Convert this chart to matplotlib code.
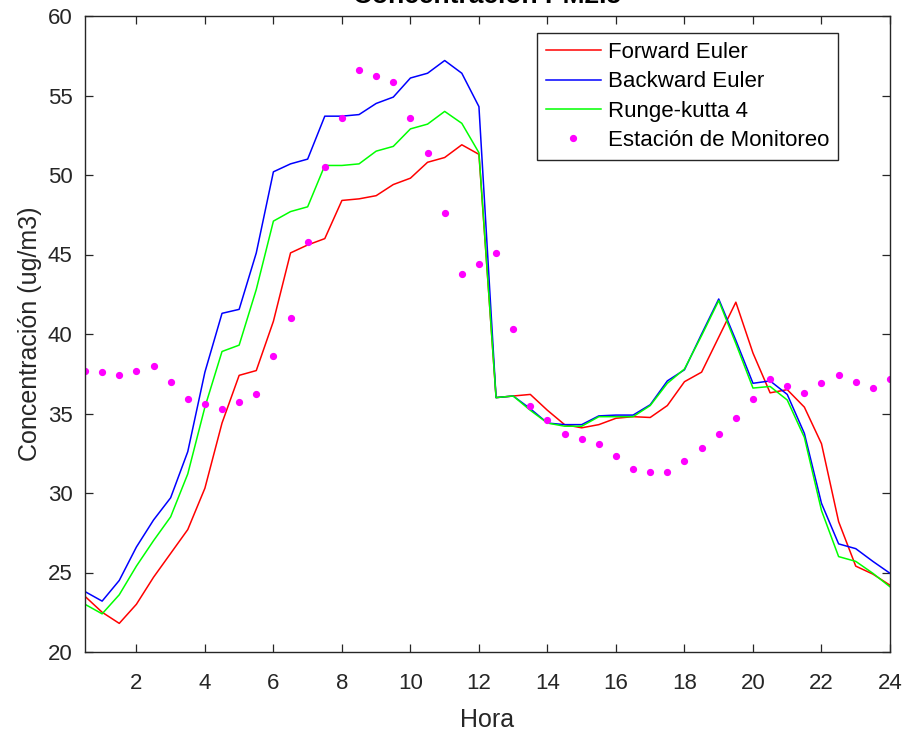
import numpy as np
import matplotlib.pyplot as plt

plt.rcParams['font.family'] = ['Liberation Sans', 'DejaVu Sans']

# horas (cada media hora)
hora = np.arange(1, 49) / 2.0

forward_euler = [23.5, 22.5, 21.8, 23.0, 24.7, 26.2, 27.7, 30.3, 34.4, 37.4, 37.7, 40.8,
                 45.1, 45.6, 46.0, 48.4, 48.5, 48.7, 49.4, 49.8, 50.8, 51.1, 51.9, 51.3,
                 36.0, 36.1, 36.2, 35.2, 34.3, 34.1, 34.3, 34.7, 34.8, 34.75, 35.5, 37.0,
                 37.6, 39.8, 42.0, 38.8, 36.3, 36.5, 35.4, 33.1, 28.2, 25.4, 24.9, 24.2]

backward_euler = [23.8, 23.2, 24.5, 26.6, 28.3, 29.7, 32.6, 37.6, 41.3, 41.55, 45.1, 50.2,
                  50.7, 51.0, 53.7, 53.7, 53.8, 54.5, 54.9, 56.1, 56.4, 57.2, 56.4, 54.3,
                  36.0, 36.1, 35.3, 34.4, 34.3, 34.3, 34.85, 34.9, 34.9, 35.55, 37.05, 37.75,
                  40.0, 42.2, 39.6, 36.9, 37.05, 36.2, 33.75, 29.35, 26.8, 26.5, 25.7, 24.95]

runge_kutta4 = [23.0, 22.4, 23.6, 25.4, 27.0, 28.5, 31.2, 35.4, 38.9, 39.3, 42.8, 47.1,
                47.7, 48.0, 50.6, 50.6, 50.7, 51.5, 51.8, 52.9, 53.2, 54.0, 53.25, 51.4,
                36.0, 36.1, 35.2, 34.4, 34.2, 34.2, 34.8, 34.8, 34.8, 35.5, 36.9, 37.8,
                39.9, 42.1, 39.4, 36.6, 36.7, 35.85, 33.5, 28.9, 26.0, 25.7, 24.95, 24.1]

estacion = [37.7, 37.6, 37.4, 37.7, 38.0, 37.0, 35.9, 35.6, 35.3, 35.7, 36.2, 38.6,
            41.0, 45.8, 50.5, 53.6, 56.6, 56.2, 55.85, 53.6, 51.4, 47.6, 43.8, 44.4,
            45.1, 40.3, 35.5, 34.6, 33.7, 33.4, 33.1, 32.3, 31.5, 31.3, 31.3, 32.0,
            32.8, 33.7, 34.7, 35.9, 37.2, 36.75, 36.3, 36.9, 37.45, 37.0, 36.6, 37.2]

fig = plt.figure(figsize=(9.04, 7.32), dpi=100)
ax = fig.add_axes([85 / 904, 1 - 652 / 732, 805 / 904, 636 / 732])

ax.plot(hora, forward_euler, color='#ff0000', lw=1.1, label='Forward Euler')
ax.plot(hora, backward_euler, color='#0000ff', lw=1.1, label='Backward Euler')
ax.plot(hora, runge_kutta4, color='#00ff00', lw=1.1, label='Runge-kutta 4')
ax.plot(hora, estacion, ls='none', marker='o', ms=4.2, color='#ff00ff',
        mec='#ff00ff', label='Estación de Monitoreo')

ax.set_xlim(0.5, 24)
ax.set_ylim(20, 60)
ax.set_xticks(np.arange(2, 25, 2))
ax.set_yticks(np.arange(20, 61, 5))
ax.tick_params(direction='in', length=6, width=0.9, top=True, right=True,
               labelsize=16, colors='#262626', pad=9)
ax.tick_params(axis='x', pad=15)
for s in ax.spines.values():
    s.set_linewidth(1.0)
    s.set_color('#262626')

ax.set_xlabel('Hora', fontsize=18, color='#262626', labelpad=10)
ax.set_ylabel('Concentración (ug/m3)', fontsize=18, color='#262626', labelpad=4)

# el título queda cortado arriba, como en la original
fig.text(487.5 / 904, 1 - 3 / 732, 'Concentración PM2.5', ha='center', va='baseline',
         fontsize=19, fontweight='bold', color='black')

leg = ax.legend(loc='upper right', bbox_to_anchor=(0.9354, 0.9733), fontsize=16,
                fancybox=False, edgecolor='#262626', framealpha=1, borderaxespad=0,
                handlelength=2.5, labelspacing=0.38, borderpad=0.4, handletextpad=0.3)
leg.get_frame().set_linewidth(1.0)

fig.savefig('out.png', dpi=100)
